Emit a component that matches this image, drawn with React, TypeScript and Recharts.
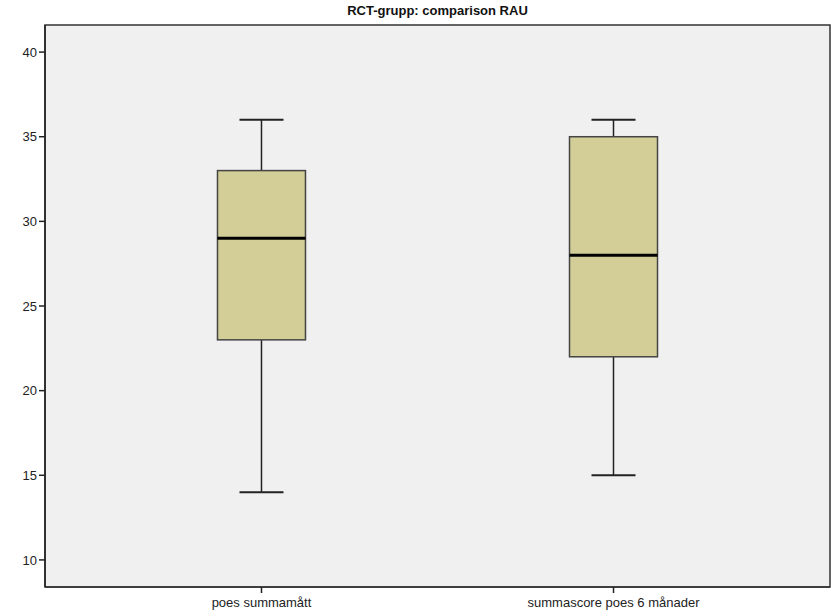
import { ComposedChart, Bar, XAxis, YAxis, ReferenceArea } from 'recharts';

const categories = ['poes summamått', 'summascore poes 6 månader'];
const positions = [1, 2];
const minValues = [14, 15];
const q1Values = [23, 22];
const medianValues = [29, 28];
const q3Values = [33, 35];
const maxValues = [36, 36];
const yTicks = [10, 15, 20, 25, 30, 35, 40];
const yDomain = [8.4, 41.6];
const xDomain = [0.385, 2.615];

const data = categories.map((name, i) => ({
  name,
  pos: positions[i],
  min: minValues[i],
  q1: q1Values[i],
  median: medianValues[i],
  q3: q3Values[i],
  max: maxValues[i],
}));

// draws the whole box from the [min, max] range bar that recharts positions
const BoxShape = (props: any) => {
  const { x, y, width, height, payload } = props;
  const unit = height / (payload.max - payload.min);
  const toY = (v: number) => y + (payload.max - v) * unit;
  const cx = x + width / 2;
  const capHalf = width / 4;
  const boxTop = toY(payload.q3);
  const boxBottom = toY(payload.q1);
  const med = toY(payload.median);
  return (
    <g>
      <line x1={cx} x2={cx} y1={toY(payload.max)} y2={boxTop} stroke="#222" strokeWidth={1.5} />
      <line x1={cx} x2={cx} y1={boxBottom} y2={toY(payload.min)} stroke="#222" strokeWidth={1.5} />
      <line x1={cx - capHalf} x2={cx + capHalf} y1={toY(payload.max)} y2={toY(payload.max)} stroke="#222" strokeWidth={2} />
      <line x1={cx - capHalf} x2={cx + capHalf} y1={toY(payload.min)} y2={toY(payload.min)} stroke="#222" strokeWidth={2} />
      <rect x={x} y={boxTop} width={width} height={boxBottom - boxTop} fill="#d3ce98" stroke="#444" strokeWidth={1.5} />
      <line x1={x} x2={x + width} y1={med} y2={med} stroke="#000" strokeWidth={3} />
    </g>
  );
};

export default function App() {
  const tickStyle = { fontFamily: 'Liberation Sans, Arial, sans-serif', fontSize: 13, fill: '#222' };
  return (
    <div style={{ position: 'relative', width: 831, height: 616, background: '#fff' }}>
      <style>{`body { margin: 0; }`}</style>
      <div
        style={{
          position: 'absolute',
          zIndex: 2,
          left: 45,
          width: 785,
          top: 3,
          textAlign: 'center',
          fontFamily: '"Liberation Sans Narrow", "Arial Narrow", Arial, sans-serif',
          fontWeight: 'bold',
          fontSize: 13,
          lineHeight: '16px',
          color: '#111',
        }}
      >
        RCT-grupp: comparison RAU
      </div>
      <ComposedChart width={831} height={616} data={data} margin={{ top: 25, right: 1, bottom: 0, left: 0 }}>
        <ReferenceArea
          x1={xDomain[0]}
          x2={xDomain[1]}
          y1={yDomain[0]}
          y2={yDomain[1]}
          fill="#f0f0f0"
          fillOpacity={1}
          stroke="#333"
          strokeWidth={1.5}
          ifOverflow="visible"
        />
        <XAxis
          type="number"
          dataKey="pos"
          domain={xDomain}
          ticks={positions}
          tickFormatter={(v: number) => categories[positions.indexOf(v)] ?? ''}
          height={29}
          tick={tickStyle}
          tickLine={{ stroke: '#222', strokeWidth: 1.5 }}
          tickSize={6}
          tickMargin={5}
          axisLine={{ stroke: '#333', strokeWidth: 1.5 }}
        />
        <YAxis
          type="number"
          domain={yDomain}
          ticks={yTicks}
          width={45}
          tick={tickStyle}
          tickLine={{ stroke: '#222', strokeWidth: 1.5 }}
          tickSize={6}
          axisLine={{ stroke: '#222', strokeWidth: 1.5 }}
        />
        <Bar
          dataKey={(d: any) => [d.min, d.max]}
          barSize={88}
          shape={BoxShape}
          isAnimationActive={false}
        />
      </ComposedChart>
    </div>
  );
}
